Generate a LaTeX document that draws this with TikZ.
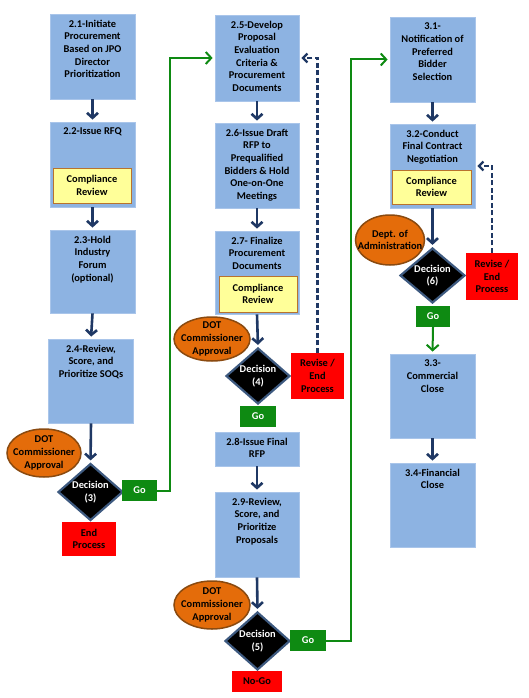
\documentclass[tikz,border=0pt]{standalone}
\usepackage{fontspec}
\setmainfont{Carlito}
\usetikzlibrary{shapes.geometric,arrows.meta}
\definecolor{boxblue}{HTML}{8DB3E2}
\definecolor{boxline}{HTML}{A9C5EA}
\definecolor{reviewfill}{HTML}{FFFF99}
\definecolor{reviewline}{HTML}{B8732E}
\definecolor{approvalfill}{HTML}{E46C0A}
\definecolor{approvalline}{HTML}{8A4A10}
\definecolor{decisionline}{HTML}{3E5A80}
\definecolor{gogreen}{HTML}{0E8A12}
\definecolor{stopred}{HTML}{FF0000}
\definecolor{flownavy}{HTML}{1F3864}
\begin{document}
\begin{tikzpicture}[x=1pt,y=-1pt,
		font=\bfseries\fontsize{10.4}{12.7}\selectfont,
		stepbox/.style={draw=boxline,line width=0.8pt,fill=boxblue,minimum width=85,minimum height=85,inner sep=0pt},
		steptext/.style={anchor=north,align=center,inner sep=0pt,yshift=-6pt},
		review/.style={draw=reviewline,line width=1pt,fill=reviewfill,minimum width=78,minimum height=35,align=center,inner sep=0pt},
		approval/.style={ellipse,draw=approvalline,line width=1.5pt,fill=approvalfill,minimum width=75,minimum height=47,inner sep=0pt},
		approvaltext/.style={anchor=center,align=center,inner sep=0pt},
		decision/.style={diamond,draw=decisionline,line width=2.2pt,fill=black,text=white,minimum width=65,minimum height=57,shape aspect=1.14,inner sep=0pt,align=center},
		gobox/.style={fill=gogreen,text=white,minimum width=36,minimum height=21,inner sep=0pt},
		stopbox/.style={fill=stopred,align=center,inner sep=0pt},
		flow/.style={draw=flownavy,line width=2.6pt,-{Straight Barb[length=5pt,width=11pt]},shorten >=2pt},
		golink/.style={draw=gogreen,line width=2pt,-{Straight Barb[length=5.5pt,width=12pt]},shorten >=2pt},
		backlink/.style={draw=flownavy,line width=2.2pt,dash pattern=on 5pt off 2.5pt,-{Straight Barb[length=4.5pt,width=9pt]},shorten >=2pt}]
		\useasboundingbox (0,0) rectangle (529,698);
		\node[stepbox,label={[steptext]north:2.1-Initiate\\Procurement\\Based on JPO\\Director\\Prioritization}] (s21) at (92.5,56.5) {};
		\node[stepbox,label={[steptext]north:2.2-Issue RFQ}] (s22) at (92.5,164.5) {};
		\node[review] (cr22) at (92,185.5) {Compliance\\Review};
		\node[stepbox,minimum height=83,label={[steptext]north:2.3-Hold\\Industry\\Forum\\(optional)}] (s23) at (92.5,271.5) {};
		\node[stepbox,minimum height=84,label={[steptext]north:2.4-Review,\\Score, and\\Prioritize SOQs}] (s24) at (91,381) {};
		\node[approval,minimum width=74,minimum height=48,label={[approvaltext]center:DOT\\Commissioner\\Approval}] (dot3) at (44,453) {};
		\node[decision] (d3) at (90.5,492) {Decision\\(3)};
		\node[gobox,minimum width=35] (go3) at (139.5,490.5) {Go};
		\node[stopbox,minimum width=54,minimum height=34] (end3) at (89,539) {End\\Process};
		\node[stepbox,minimum width=84,minimum height=86,label={[steptext]north:2.5-Develop\\Proposal\\Evaluation\\Criteria \&\\Procurement\\Documents}] (s25) at (257,58) {};
		\node[stepbox,minimum width=84,label={[steptext]north:2.6-Issue Draft\\RFP to\\Prequalified\\Bidders \& Hold\\One-on-One\\Meetings}] (s26) at (257,165.5) {};
		\node[stepbox,minimum width=84,minimum height=83,label={[steptext]north:2.7- Finalize\\Procurement\\Documents}] (s27) at (257,272.5) {};
		\node[review,minimum height=36] (cr27) at (258,294) {Compliance\\Review};
		\node[approval,minimum width=76,minimum height=44,label={[approvaltext]center:DOT\\Commissioner\\Approval}] (dot4) at (212,339) {};
		\node[decision,minimum width=64,minimum height=56] (d4) at (258,376) {Decision\\(4)};
		\node[stopbox,minimum width=53,minimum height=46] (rev4) at (317.5,376) {Revise /\\End\\Process};
		\node[gobox] (go4) at (258,416.5) {Go};
		\node[stepbox,minimum width=84,minimum height=34,label={[steptext]north:2.8-Issue Final\\RFP}] (s28) at (257,449) {};
		\node[stepbox,minimum width=84,label={[steptext]north:2.9-Review,\\Score, and\\Prioritize\\Proposals}] (s29) at (257,534.5) {};
		\node[approval,minimum width=76,minimum height=48,label={[approvaltext]center:DOT\\Commissioner\\Approval}] (dot5) at (212,605) {};
		\node[decision,minimum height=58] (d5) at (257.5,641) {Decision\\(5)};
		\node[gobox] (go5) at (308,640.5) {Go};
		\node[stopbox,minimum width=50,minimum height=21] (nogo5) at (257,681.5) {No-Go};
		\node[stepbox,label={[steptext]north:3.1-\\Notification of\\Preferred\\Bidder\\Selection}] (s31) at (432.5,59.5) {};
		\node[stepbox,minimum height=84,label={[steptext]north:3.2-Conduct\\Final Contract\\Negotiation}] (s32) at (432.5,166) {};
		\node[review,minimum width=79,minimum height=34] (cr32) at (431.5,187) {Compliance\\Review};
		\node[approval,minimum width=69,minimum height=50,label={[approvaltext]center:Dept. of\\Administration}] (dept6) at (390,240) {};
		\node[decision,minimum height=55] (d6) at (432.5,275.5) {Decision\\(6)};
		\node[stopbox,minimum width=52,minimum height=47] (rev6) at (492,276.5) {Revise /\\End\\Process};
		\node[gobox,minimum width=34] (go6) at (433,316.5) {Go};
		\node[stepbox,minimum height=84,label={[steptext]north:3.3-\\Commercial\\Close}] (s33) at (432.5,396) {};
		\node[stepbox,minimum height=84,label={[steptext]north:3.4-Financial\\Close}] (s34) at (432.5,505) {};
		\draw[flow] (s21.south) -- (s22.north);
		\draw[flow] (s22.south) -- (s23.north);
		\draw[flow] (s23.south) -- (s24.north);
		\draw[flow] (s24.south) -- (d3.north);
		\draw[flow] (s25.south) -- (s26.north);
		\draw[flow] (s26.south) -- (s27.north);
		\draw[flow] (s27.south) -- (d4.north);
		\draw[flow] (s28.south) -- (s29.north);
		\draw[flow] (s29.south) -- (d5.north);
		\draw[flow] (s31.south) -- (s32.north);
		\draw[flow] (s32.south) -- (d6.north);
		\draw[flow] (s33.south) -- (s34.north);
		\draw[golink] (go3.east) -- ++(13,0) |- (s25.west);
		\draw[golink] (go5.east) -- ++(25,0) |- (s31.west);
		\draw[golink] (go6.south) -- (s33.north);
		\draw[backlink] (rev4.north) |- (s25.east);
		\draw[backlink] (rev6.north) |- (s32.east);
	\end{tikzpicture}
\end{document}
